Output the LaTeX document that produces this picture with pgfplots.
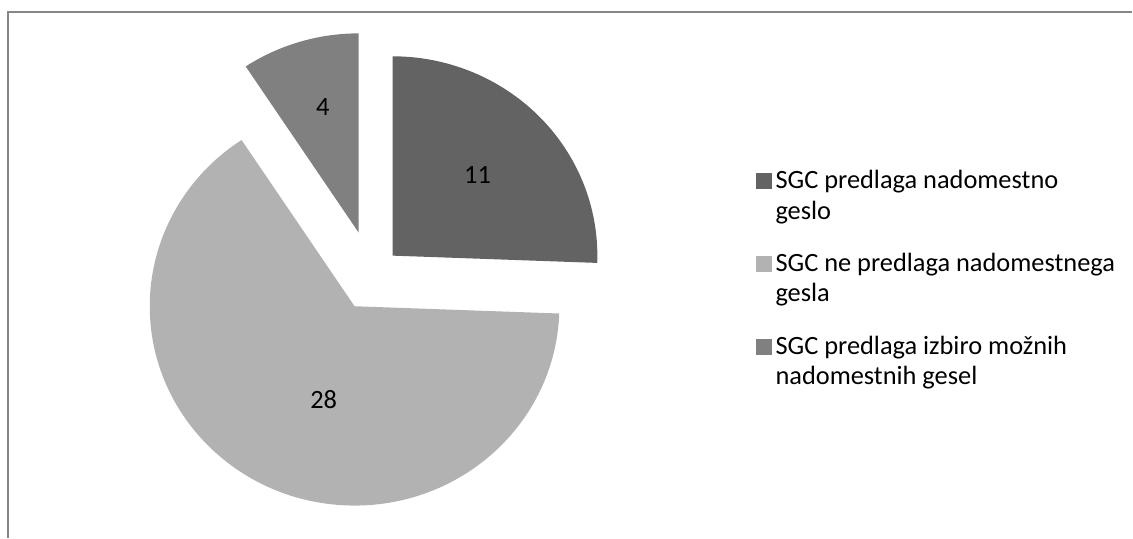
\documentclass[border=0pt]{standalone}
\usepackage{fontspec}
\setmainfont{Carlito}
\usepackage{pgfplots}
\usepackage{pgfplotstable}
\pgfplotsset{compat=1.18}

\definecolor{cA}{RGB}{99,99,99}
\definecolor{cB}{RGB}{178,178,178}
\definecolor{cC}{RGB}{128,128,128}
\definecolor{frame}{RGB}{134,134,134}

% value, explode (px), label x/y (px, y up), colour
\pgfplotstableread{
v  e  lx  ly  c
11 29 478 363 cA
28 35 324 138 cB
4  45 323 431 cC
}\piedata

\begin{document}
\begin{tikzpicture}[font={\fontsize{13.2}{15.3}\selectfont}]
\begin{axis}[
    scale only axis, x=0.5pt, y=0.5pt,
    xmin=0, xmax=1133, ymin=0, ymax=538,
    hide axis, clip=false,
    legend style={at={(axis cs:756,372)}, anchor=north west, draw=none, fill=none,
        inner sep=0pt, row sep=11.5pt, cells={align=left, anchor=west},
        /tikz/every even column/.append style={column sep=2.5pt}},
    legend image code/.code={\fill[#1] (0pt,4pt) rectangle (7.5pt,11.5pt);},
]
% frame lines
\draw[frame, line width=1pt] (axis cs:1133,525.5) -- (axis cs:8,525.5) -- (axis cs:8,0);

\def\tot{0}
\pgfplotsforeachungrouped \i in {0,1,2}{%
  \pgfplotstablegetelem{\i}{v}\of\piedata
  \pgfmathsetmacro\tot{\tot+\pgfplotsretval}%
}
\def\ang{90}
\pgfplotsforeachungrouped \i in {0,1,2}{%
  \pgfplotstablegetelem{\i}{v}\of\piedata \let\val\pgfplotsretval
  \pgfplotstablegetelem{\i}{e}\of\piedata \let\ex\pgfplotsretval
  \pgfplotstablegetelem{\i}{lx}\of\piedata \let\lx\pgfplotsretval
  \pgfplotstablegetelem{\i}{ly}\of\piedata \let\ly\pgfplotsretval
  \pgfplotstablegetelem{\i}{c}\of\piedata \let\col\pgfplotsretval
  \pgfmathsetmacro\angb{\ang-360*\val/\tot}%
  \pgfmathsetmacro\angm{(\ang+\angb)/2}%
  \pgfmathsetmacro\ax{372+\ex*cos(\angm)}%
  \pgfmathsetmacro\ay{262+\ex*sin(\angm)}%
  \pgfmathsetmacro\sx{102.5*cos(\ang)}%
  \pgfmathsetmacro\sy{99.75*sin(\ang)}%
  \edef\cmd{%
    \noexpand\fill[\col] (axis cs:\ax,\ay) -- ++(\sx pt,\sy pt)
      arc[start angle=\ang, end angle=\angb, x radius=102.5pt, y radius=99.75pt] -- cycle;
    \noexpand\node at (axis cs:\lx,\ly) {\val};}%
  \cmd
  \let\ang\angb
}

\addlegendimage{cA}
\addlegendentry{SGC predlaga nadomestno\\geslo}
\addlegendimage{cB}
\addlegendentry{SGC ne predlaga nadomestnega\\gesla}
\addlegendimage{cC}
\addlegendentry{SGC predlaga izbiro možnih\\nadomestnih gesel}
\end{axis}
\path (current axis.south west) rectangle (current axis.north east);
\end{tikzpicture}
\end{document}
